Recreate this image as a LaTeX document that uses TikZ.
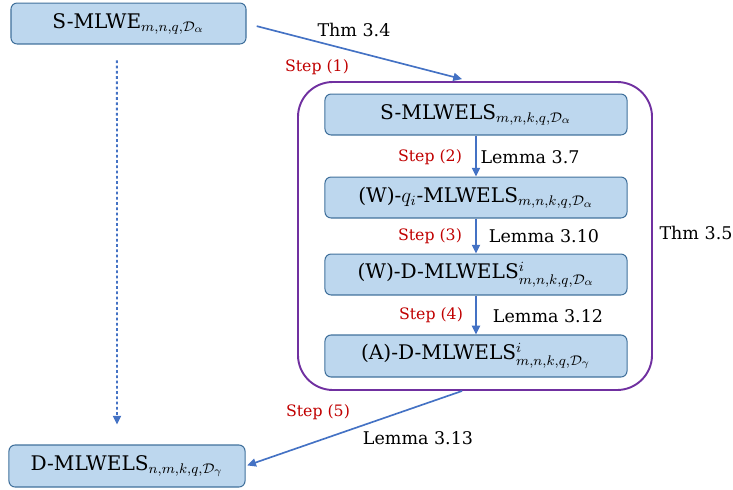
\documentclass[tikz,border=0pt]{standalone}
\usepackage{amssymb}
\usepackage{amsmath}
\usepackage{fontspec}
\setmainfont{DejaVu Serif}
\usepackage{tikz}
\usetikzlibrary{positioning,arrows.meta}
\definecolor{boxfill}{HTML}{BDD7EE}
\definecolor{boxline}{HTML}{41719C}
\definecolor{arrblue}{HTML}{4472C4}
\definecolor{grpline}{HTML}{7030A0}
\definecolor{steptxt}{HTML}{C00000}
\DeclareMathSizes{11.5}{11.5}{8}{6}

\begin{document}
\begin{tikzpicture}[x=0.5714pt, y=-0.5714pt,
    box/.style={draw=boxline, fill=boxfill, line width=0.6pt, rounded corners=3.5pt,
                inner sep=0pt, font=\fontsize{11.5}{13}\selectfont},
    arr/.style={draw=arrblue, line width=0.95pt, -{Triangle[length=5pt,width=4.6pt]}},
    dotarr/.style={arr, line width=1.1pt, dash pattern=on 1.5pt off 1.5pt},
    steplbl/.style={text=steptxt, font=\fontsize{9}{11}\selectfont},
    lemlbl/.style={font=\fontsize{10}{12}\selectfont}]
    \useasboundingbox (0,0) rectangle (733,489);
    % outer frame around the inner chain
    \node[draw=grpline, line width=1.1pt, rounded corners=20pt,
          minimum width=202.3pt, minimum height=176pt] (grp) at (475,236) {};
    % boxes
    \node[box, minimum width=134.3pt, minimum height=23.4pt] (smlwe) at (128.5,23.5)
        {S-MLWE$_{m,n,q,\mathcal{D}_\alpha}$};
    \node[box, minimum width=134.9pt, minimum height=24pt] (dmlwels) at (127,466)
        {D-MLWELS$_{n,m,k,q,\mathcal{D}_\gamma}$};
    \node[box, minimum width=172.6pt, minimum height=23.4pt] (smlwels) at (476,114.5)
        {S-MLWELS$_{m,n,k,q,\mathcal{D}_\alpha}$};
    \node[box, minimum width=172.6pt, minimum height=23.4pt] (wqi) at (476,197.5)
        {(W)-$q_i$-MLWELS$_{m,n,k,q,\mathcal{D}_\alpha}$};
    \node[box, minimum width=172.6pt, minimum height=23.4pt] (wd) at (476,274.5)
        {(W)-D-MLWELS$^i_{m,n,k,q,\mathcal{D}_\alpha}$};
    \node[box, minimum width=172.6pt, minimum height=24pt] (ad) at (476,356)
        {(A)-D-MLWELS$^i_{m,n,k,q,\mathcal{D}_\gamma}$};
    % arrows
    \draw[arr, shorten <=6pt] (smlwe.east) -- ([xshift=-7.4pt,yshift=1.1pt]grp.north);
    \draw[arr] (smlwels) -- (wqi);
    \draw[arr] (wqi) -- (wd);
    \draw[arr] (wd) -- (ad);
    \draw[arr, shorten >=1pt] ([xshift=-7.4pt]grp.south) -- (dmlwels.east);
    \draw[dotarr] ([xshift=-6.6pt,yshift=-9.1pt]smlwe.south) -- ([xshift=-5.7pt,yshift=11.4pt]dmlwels.north);
    % labels
    \node[lemlbl] (thm34) at (354,30) {Thm 3.4};
    \node[steplbl] (st1) at (317,67) {Step (1)};
    \node[steplbl] (st2) at (430,157) {Step (2)};
    \node[lemlbl] (lem37) at (530,157) {Lemma 3.7};
    \node[steplbl] (st3) at (430,236) {Step (3)};
    \node[lemlbl] (lem310) at (544,236) {Lemma 3.10};
    \node[steplbl] (st4) at (431,315) {Step (4)};
    \node[lemlbl] (lem312) at (548,316) {Lemma 3.12};
    \node[lemlbl] (thm35) at (696,233) {Thm 3.5};
    \node[steplbl] (st5) at (318,412) {Step (5)};
    \node[lemlbl] (lem313) at (418,438) {Lemma 3.13};
\end{tikzpicture}
\end{document}
